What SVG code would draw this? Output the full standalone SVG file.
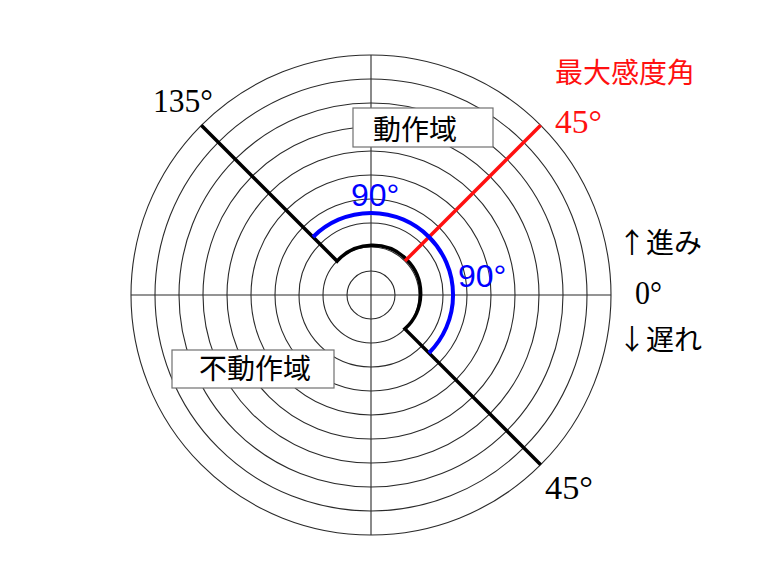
<svg xmlns="http://www.w3.org/2000/svg" width="768" height="576" viewBox="0 0 768 576">
<style>
.grid{fill:none;stroke:#2a2a2a;stroke-width:1.1}
.thick{fill:none;stroke:#000;stroke-width:3.5}
.red{fill:none;stroke:#ff1010;stroke-width:3.5}
.blue{fill:none;stroke:#0000ff;stroke-width:4}
.box{fill:#fff;stroke:#707070;stroke-width:1.2}
.jp{font-family:"Noto Sans CJK JP","Noto Sans",sans-serif;font-size:28px}
.num{font-family:"Liberation Serif",serif;font-size:34px}
.bnum{font-family:"Liberation Sans",sans-serif;font-size:32px;fill:#0000ff}
</style>
<rect width="768" height="576" fill="#fff"/>
<g id="grid">
<circle class="grid" cx="371" cy="295" r="24"/>
<circle class="grid" cx="371" cy="295" r="48"/>
<circle class="grid" cx="371" cy="295" r="72"/>
<circle class="grid" cx="371" cy="295" r="96"/>
<circle class="grid" cx="371" cy="295" r="120"/>
<circle class="grid" cx="371" cy="295" r="144"/>
<circle class="grid" cx="371" cy="295" r="168"/>
<circle class="grid" cx="371" cy="295" r="192"/>
<circle class="grid" cx="371" cy="295" r="216"/>
<circle class="grid" cx="371" cy="295" r="240"/>
<line class="grid" x1="131" y1="295" x2="611" y2="295"/>
<line class="grid" x1="371" y1="55" x2="371" y2="535"/>
</g>
<g id="connectors">
<path class="thick" d="M201.3,125.3 L337.1,261.1 A48,48 0 1 1 404.9,328.9 L540.7,464.7"/>
<line class="red" x1="404.9" y1="261.1" x2="540.7" y2="125.3"/>
<path class="blue" d="M313,237 A82,82 0 1 1 429,353"/>
</g>
<g id="labels">
<text class="num" x="153" y="111.5" textLength="60" lengthAdjust="spacingAndGlyphs">135°</text>
<text class="num" x="555" y="132.5" fill="#ff1010" textLength="47" lengthAdjust="spacingAndGlyphs">45°</text>
<text class="num" x="545" y="498.5" textLength="48" lengthAdjust="spacingAndGlyphs">45°</text>
<text class="num" x="635" y="303.5" textLength="27" lengthAdjust="spacingAndGlyphs">0°</text>
<text class="bnum" x="351" y="205.5">90°</text>
<text class="bnum" x="458" y="286.5">90°</text>
<text class="jp" x="625" y="83" fill="#ff1010" text-anchor="middle">最大感度角</text>
<text class="jp" x="618" y="253">↑進み</text>
<text class="jp" x="618" y="350">↓遅れ</text>
</g>
<g id="node-active">
<rect class="box" x="353" y="108" width="140" height="39"/>
<text class="jp" x="415" y="140" text-anchor="middle">動作域</text>
</g>
<g id="node-inactive">
<rect class="box" x="172" y="350" width="162" height="38"/>
<text class="jp" x="255" y="379" text-anchor="middle">不動作域</text>
</g>
</svg>
